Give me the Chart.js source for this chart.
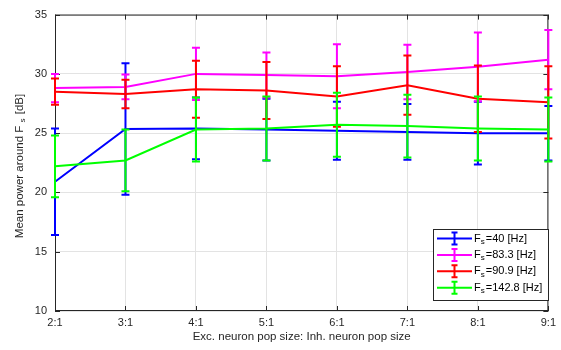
<!DOCTYPE html>
<html>
<head>
<meta charset="utf-8">
<script src="https://cdn.jsdelivr.net/npm/chart.js@4"></script>
<style>
  html, body { margin: 0; padding: 0; background: #fff; }
  #wrap { width: 561px; height: 350px; position: relative; }
</style>
</head>
<body>
<div id="wrap"><canvas id="chart"></canvas></div>
<script>
const categories = ["2:1", "3:1", "4:1", "5:1", "6:1", "7:1", "8:1", "9:1"];
const yTicks = [10, 15, 20, 25, 30, 35];

// mean power and error (half length of the bar) for each sampling rate
const fs40 = [20.9, 25.35, 25.4, 25.3, 25.2, 25.1, 25.0, 25.0];
const fs40Err = [4.5, 5.55, 2.6, 2.6, 2.45, 2.35, 2.65, 2.3];
const fs83 = [28.8, 28.9, 30.0, 29.9, 29.8, 30.15, 30.6, 31.2];
const fs83Err = [1.2, 1.05, 2.2, 1.9, 2.7, 2.3, 2.9, 2.5];
const fs91 = [28.5, 28.3, 28.7, 28.6, 28.1, 29.05, 27.9, 27.6];
const fs91Err = [1.1, 1.2, 2.4, 2.4, 2.55, 2.5, 2.8, 3.05];
const fs143 = [22.2, 22.7, 25.3, 25.4, 25.7, 25.6, 25.4, 25.3];
const fs143Err = [2.6, 2.6, 2.7, 2.7, 2.7, 2.65, 2.7, 2.7];

const legendRates = ["40", "83.3", "90.9", "142.8"];

const FONT = "'Liberation Sans', Arial, Helvetica, sans-serif";
const AXIS = "#262626";

// draws the vertical error bars right after each line so the layering matches
const errorBars = {
  id: "errorBars",
  afterDatasetDraw(chart, args) {
    const ds = chart.data.datasets[args.index];
    const x = chart.scales.x, y = chart.scales.y;
    const ctx = chart.ctx;
    ctx.save();
    ctx.strokeStyle = ds.borderColor;
    ctx.lineWidth = 2;
    ds.data.forEach((v, i) => {
      const px = x.getPixelForValue(i);
      const top = y.getPixelForValue(v + ds.err[i]);
      const bot = y.getPixelForValue(v - ds.err[i]);
      ctx.beginPath();
      ctx.moveTo(px, top); ctx.lineTo(px, bot);
      ctx.moveTo(px - 4, top); ctx.lineTo(px + 4, top);
      ctx.moveTo(px - 4, bot); ctx.lineTo(px + 4, bot);
      ctx.stroke();
    });
    ctx.restore();
  }
};

// matlab style box with inward ticks
const axesBox = {
  id: "axesBox",
  beforeDatasetsDraw(chart) {
    const { ctx, chartArea: a } = chart;
    const x = chart.scales.x, y = chart.scales.y;
    ctx.save();
    ctx.strokeStyle = AXIS;
    ctx.lineWidth = 1;
    ctx.strokeRect(a.left + 0.5, a.top + 0.5, a.right - a.left - 1, a.bottom - a.top - 1);
    ctx.beginPath();
    categories.forEach((c, i) => {
      const px = Math.round(x.getPixelForValue(i)) + 0.5;
      ctx.moveTo(px, a.bottom); ctx.lineTo(px, a.bottom - 5);
      ctx.moveTo(px, a.top); ctx.lineTo(px, a.top + 5);
    });
    yTicks.forEach(t => {
      const py = Math.round(y.getPixelForValue(t)) + 0.5;
      ctx.moveTo(a.left, py); ctx.lineTo(a.left + 5, py);
      ctx.moveTo(a.right, py); ctx.lineTo(a.right - 5, py);
    });
    ctx.stroke();
    ctx.restore();
  }
};

function subText(ctx, parts, x, y, size) {
  // parts: [text, isSub]
  let cx = x;
  parts.forEach(([t, sub]) => {
    ctx.font = (sub ? "8px " : size + "px ") + FONT;
    ctx.fillText(t, cx, y + (sub ? 3 : 0));
    cx += ctx.measureText(t).width + (sub ? 1 : 0);
  });
  return cx;
}

function textWidth(ctx, parts, size) {
  let w = 0;
  parts.forEach(([t, sub]) => {
    ctx.font = (sub ? "8px " : size + "px ") + FONT;
    w += ctx.measureText(t).width + (sub ? 1 : 0);
  });
  return w;
}

const labelsAndLegend = {
  id: "labelsAndLegend",
  afterDraw(chart) {
    const { ctx } = chart;
    ctx.save();
    ctx.fillStyle = AXIS;
    ctx.textBaseline = "middle";

    // y axis title with subscript
    const yParts = [["Mean power around F ", false], ["s", true], [" [dB]", false]];
    const w = textWidth(ctx, yParts, 11.5);
    ctx.translate(20, 166);
    ctx.rotate(-Math.PI / 2);
    subText(ctx, yParts, -w / 2, 0, 11.5);
    ctx.setTransform(1, 0, 0, 1, 0, 0);

    // legend
    const bx = 433, by = 229, bw = 115, bh = 71;
    ctx.fillStyle = "#fff";
    ctx.fillRect(bx, by, bw, bh);
    ctx.strokeStyle = AXIS;
    ctx.lineWidth = 1;
    ctx.strokeRect(bx + 0.5, by + 0.5, bw, bh);
    chart.data.datasets.forEach((ds, i) => {
      const ry = 238.5 + i * 16.4;
      ctx.strokeStyle = ds.borderColor;
      ctx.lineWidth = 2;
      ctx.beginPath();
      ctx.moveTo(437, ry); ctx.lineTo(472, ry);
      ctx.moveTo(454.5, ry - 6); ctx.lineTo(454.5, ry + 6);
      ctx.moveTo(451.5, ry - 6); ctx.lineTo(457.5, ry - 6);
      ctx.moveTo(451.5, ry + 6); ctx.lineTo(457.5, ry + 6);
      ctx.stroke();
      ctx.fillStyle = "#000";
      subText(ctx, [["F", false], ["s", true], ["=" + legendRates[i] + " [Hz]", false]], 474, ry, 11);
    });
    ctx.restore();
  }
};

const makeSet = (label, data, err, color, order) => ({
  label, data, err,
  borderColor: color,
  backgroundColor: color,
  borderWidth: 2,
  pointRadius: 0,
  tension: 0,
  fill: false,
  order
});

new Chart(document.getElementById("chart").getContext("2d"), {
  type: "line",
  data: {
    labels: categories,
    datasets: [
      makeSet("Fs=40 [Hz]", fs40, fs40Err, "#0000ff", 4),
      makeSet("Fs=83.3 [Hz]", fs83, fs83Err, "#ff00ff", 3),
      makeSet("Fs=90.9 [Hz]", fs91, fs91Err, "#ff0000", 2),
      makeSet("Fs=142.8 [Hz]", fs143, fs143Err, "#00ff00", 1)
    ]
  },
  options: {
    responsive: true,
    maintainAspectRatio: false,
    animation: false,
    layout: { padding: { top: 12, right: 4, left: 0, bottom: 0 } },
    plugins: {
      legend: { display: false },
      tooltip: { enabled: false }
    },
    scales: {
      x: {
        offset: false,
        afterFit: (s) => { s.height = 39; },
        grid: { color: "#e3e3e3", drawTicks: false },
        border: { display: false },
        ticks: { color: AXIS, font: { family: FONT, size: 11 }, padding: 5, maxRotation: 0 },
        title: {
          display: true,
          text: "Exc. neuron pop size: Inh. neuron pop size",
          color: AXIS,
          font: { family: FONT, size: 11.5 },
          padding: { top: 0, bottom: 6 }
        }
      },
      y: {
        min: 10,
        max: 35,
        afterFit: (s) => { s.width = 55; },
        afterBuildTicks: (s) => { s.ticks = yTicks.map(v => ({ value: v })); },
        grid: { color: "#e3e3e3", drawTicks: false },
        border: { display: false },
        ticks: { color: AXIS, font: { family: FONT, size: 11 }, padding: 8 }
      }
    }
  },
  plugins: [errorBars, axesBox, labelsAndLegend]
});
</script>
</body>
</html>
